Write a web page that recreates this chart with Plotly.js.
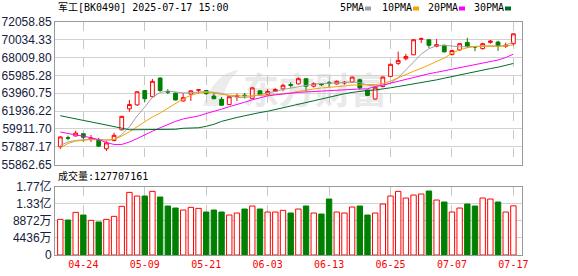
<!DOCTYPE html>
<html><head><meta charset="utf-8">
<script src="https://cdn.plot.ly/plotly-3.0.1.min.js"></script>
<style>html,body{margin:0;padding:0;background:#fff;}#chart{width:578px;height:276px;}</style>
</head><body><div id="chart"></div>
<script>
const dates = ['04-21','04-22','04-23','04-24','04-25','04-28','04-29','04-30',
 '05-06','05-07','05-08','05-09','05-12','05-13','05-14','05-15','05-16','05-19','05-20','05-21','05-22','05-23','05-26','05-27','05-28','05-29','05-30',
 '06-03','06-04','06-05','06-06','06-09','06-10','06-11','06-12','06-13','06-16','06-17','06-18','06-19','06-20','06-23','06-24','06-25','06-26','06-27','06-30',
 '07-01','07-02','07-03','07-04','07-07','07-08','07-09','07-10','07-11','07-14','07-15','07-16','07-17'];
const openP  = [57875,58900,59103,59363,58694,58694,57652,58582,59810,62191,62637,64274,63567,65687,64162,63976,63083,63865,64311,64274,63641,63270,62674,63604,63753,63381,64237,63828,64162,64460,64943,65018,65613,64758,64981,65167,65018,65130,65241,65501,64311,63307,64720,65873,67362,67882,68329,70114,70040,69296,69408,68366,68887,69742,69259,69036,69742,69779,69296,69594];
const highP  = [59103,59140,59698,59400,59215,58880,58508,59475,61372,63195,64199,64311,65576,65762,64423,64051,63976,64274,64348,64348,64088,63530,63641,63902,63976,64646,64274,64423,64534,65055,65204,65762,65650,65204,65129,65353,65427,65353,65873,65613,64385,64720,65873,67324,68701,68440,70114,70300,70077,70114,69482,68924,69631,70263,69333,69705,70003,69928,69705,70784];
const lowP   = [57615,58620,59066,58434,58434,57875,57392,58508,59735,61856,62526,62972,63455,64125,63865,63158,63009,63083,63902,63828,63270,62526,62637,63083,63381,63344,63716,63790,64125,64199,64609,64943,64162,64609,64758,64683,64943,64943,65130,64385,63641,63232,64646,65799,67176,67696,68292,69668,69110,69185,68589,68255,68775,69110,68738,68924,69594,68775,69110,69408];
const closeP = [58991,58860,59438,58954,58880,57950,58322,59178,61335,62674,64125,63344,65315,64274,64088,63195,63455,64237,64348,63902,63344,62600,63567,63679,63679,64572,63790,64162,64385,64869,64869,65613,64758,65055,64943,65092,65315,65204,65799,64572,63716,64646,65799,67250,67696,68143,70040,70151,69408,69482,68664,68812,69594,69296,69222,69594,69891,69333,69408,70710];
const ma5  = [58028,58419,58586,58698,58753,58698,58642,58698,59256,60148,61376,62400,63496,64054,64222,64110,63999,64021,64110,64166,64054,63943,63664,63496,63441,63608,63775,63943,64166,64389,64557,64724,64891,65003,65059,65115,65170,65226,65226,65170,64891,64780,64836,65115,65728,66621,67514,68407,69021,69355,69411,69300,69244,69244,69300,69355,69355,69300,69411,69802];
const ma10 = [57749,58251,58530,58642,58698,58675,58642,58698,59088,59590,60148,60762,61264,61711,62269,62827,63329,63720,63999,64054,63999,63831,63720,63664,63641,63664,63697,63742,63831,63887,63999,64166,64333,64445,64557,64612,64668,64780,64891,64947,64950,64950,65059,65338,65728,66119,66454,66789,67179,67514,67960,68518,68909,69132,69266,69300,69320,69290,69310,69467];
const ma20 = [59557,59367,59222,59088,58921,58698,58363,58140,58140,58419,58809,59256,59646,60037,60405,60762,61041,61209,61376,61655,61878,62157,62436,62659,62938,63217,63441,63664,63775,63887,63999,64054,64110,64166,64222,64278,64333,64389,64411,64445,64467,64724,64891,65115,65338,65561,65784,66007,66175,66342,66510,66677,66844,67012,67179,67347,67514,67737,68016,68407];
const ma30 = [61409,61209,61041,60874,60706,60539,60372,60204,59981,59814,59814,59814,59814,59805,59810,59869,59981,60003,60037,60204,60427,60762,61019,61209,61398,61599,61767,61912,62101,62269,62458,62659,62883,63106,63307,63519,63720,63909,64054,64188,64278,64333,64423,64579,64724,64869,65003,65148,65304,65483,65673,65862,66063,66253,66431,66599,66766,66922,67123,67347];
// volume in 万 (10^4 shares)
const volumeWan = [9262,9088,11079,10387,9002,8569,9262,10040,12637,16272,15320,15320,16532,15061,12724,12204,11685,12378,12118,11166,11686,11166,10387,10907,11945,12724,11945,11166,11166,11599,10907,11945,12724,10907,10647,14542,11166,10907,12465,12724,10387,10907,13244,15321,16533,14802,15581,15840,16620,14282,13763,11166,12205,13244,12724,14802,14542,13763,11166,12770.7161];
const dateTicks = ['04-24','05-09','05-21','06-03','06-13','06-25','07-07','07-17'];
const priceTicks = [55862.65,57887.17,59911.70,61936.22,63960.75,65985.28,68009.80,70034.33,72058.85];
const volTicks = [0,4436,8872,13308,17744];
const volTickText = ['0','4436万','8872万','1.33亿','1.77亿'];
const maNames = ['5PMA','10PMA','20PMA','30PMA'];
const maColors = ['#a0a0a0','#f5a300','#ff00ff','#006b2c'];
const titleText = '军工[BK0490] 2025-07-17 15:00';

const W=578,H=276,ML=55,MR=56,MT=22,MB=21;
const PW=W-ML-MR, PH=H-MT-MB;
const px=x=>(x-ML)/PW, py=y=>(H-MB-y)/PH;

const up = closeP.map((c,i)=>c>=openP[i]);
const mono = 'DejaVu Sans Mono, Noto Sans CJK SC, monospace';

const traces = [
 {type:'candlestick', x:dates, open:openP, high:highP, low:lowP, close:closeP, xaxis:'x', yaxis:'y',
  increasing:{line:{color:'#ff0000',width:1}, fillcolor:'#ffffff'},
  decreasing:{line:{color:'#008000',width:1}, fillcolor:'#008000'},
  whiskerwidth:0, hoverinfo:'skip'}
];
[ma5,ma10,ma20,ma30].forEach((m,k)=>traces.push({type:'scatter',mode:'lines',x:dates,y:m,xaxis:'x',yaxis:'y',
  line:{color:maColors[k],width:1},hoverinfo:'skip',name:maNames[k]}));
traces.push({type:'bar', x:dates, y:volumeWan, xaxis:'x2', yaxis:'y2',
  marker:{color:up.map(u=>u?'#ffffff':'#008000'), line:{color:up.map(u=>u?'#ff0000':'#008000'), width:1}},
  hoverinfo:'skip'});

const xr=[-0.69,60.12];
const gridX={showgrid:true,gridcolor:'#c8c8c8',griddash:'dash',gridwidth:1,showline:true,mirror:true,linecolor:'#9a9a9a',linewidth:1,zeroline:false,ticks:'',fixedrange:true};
const gridY={showgrid:true,gridcolor:'#d2d2d2',gridwidth:1,showline:true,mirror:true,linecolor:'#9a9a9a',linewidth:1,zeroline:false,ticks:'',fixedrange:true,
  tickfont:{family:'Liberation Sans, Arial, Noto Sans CJK SC, sans-serif',size:12,color:'#14203c'}};

const annotations = [
 {xref:'paper',yref:'paper',x:px(56),y:py(8),xanchor:'left',yanchor:'middle',text:titleText,showarrow:false,font:{family:mono,size:10,color:'#000'}},
 {xref:'paper',yref:'paper',x:px(56),y:py(176),xanchor:'left',yanchor:'middle',text:'成交量:'+Math.round(volumeWan[volumeWan.length-1]*1e4),showarrow:false,font:{family:mono,size:10,color:'#000'}}
];
const legX=[338,380,426,472], sqX=[365,413,459,505];
const shapes=[];
maNames.forEach((n,k)=>{
  annotations.push({xref:'paper',yref:'paper',x:px(legX[k]),y:py(8),xanchor:'left',yanchor:'middle',text:n,showarrow:false,font:{family:mono,size:10,color:'#000'}});
  shapes.push({type:'rect',xref:'paper',yref:'paper',x0:px(sqX[k]),x1:px(sqX[k]+6),y0:py(10.5),y1:py(6.5),fillcolor:maColors[k],line:{width:0}});
});

const wmSvg = "<svg xmlns='http://www.w3.org/2000/svg' width='200' height='46'>"+
 "<text x='48' y='38' font-family='Noto Sans CJK SC' font-weight='bold' font-size='36' fill='#e9e9e9'>东方财富</text>"+
 "<path d='M8 40 Q20 6 44 4 Q30 16 26 40 Z' fill='#ececec'/></svg>";
const wmSrc = 'data:image/svg+xml;charset=utf-8,'+encodeURIComponent(wmSvg);

const layout = {
 width:W,height:H,margin:{l:ML,r:MR,t:MT,b:MB,pad:0},
 paper_bgcolor:'#ffffff',plot_bgcolor:'rgba(0,0,0,0)',showlegend:false,dragmode:false,
 font:{family:'Liberation Sans, Arial, sans-serif',size:12,color:'#14203c'},
 xaxis:Object.assign({},gridX,{type:'category',range:xr,anchor:'y',tickvals:dateTicks,showticklabels:false,rangeslider:{visible:false}}),
 yaxis:Object.assign({},gridY,{domain:[py(164.5),1],range:[priceTicks[0],priceTicks[priceTicks.length-1]],tickvals:priceTicks,ticktext:priceTicks.map(v=>v.toFixed(2)),anchor:'x'}),
 xaxis2:Object.assign({},gridX,{type:'category',range:xr,anchor:'y2',tickvals:dateTicks,ticktext:dateTicks,showticklabels:true,
   tickfont:{family:mono,size:10,color:'#ff0000'}}),
 yaxis2:Object.assign({},gridY,{domain:[0,py(186.7)],range:[0,volTicks[volTicks.length-1]],tickvals:volTicks,ticktext:volTickText,anchor:'x2'}),
 bargap:0.3, boxgap:0.3,
 annotations:annotations, shapes:shapes,
 images:[{source:wmSrc,xref:'paper',yref:'paper',x:px(195),y:py(66),sizex:px(395)-px(195),sizey:py(66)-py(112),xanchor:'left',yanchor:'top',sizing:'stretch',layer:'below'}]
};
Plotly.newPlot('chart',traces,layout,{staticPlot:true,displayModeBar:false});
</script></body></html>
